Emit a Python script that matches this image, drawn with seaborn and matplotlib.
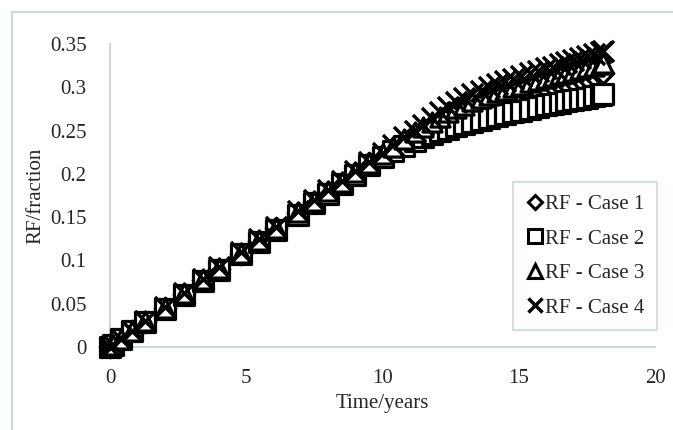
import numpy as np
import pandas as pd
import matplotlib
matplotlib.use("Agg")
import matplotlib.pyplot as plt
import seaborn as sns
from matplotlib.lines import Line2D
from matplotlib.ticker import FuncFormatter

# time axis (years) shared by all cases
time_years = [0, 0.1, 0.4, 0.8, 1.3, 2.0, 2.7, 3.4, 4.0, 4.8, 5.45, 6.1, 6.9, 7.5,
              8.0, 8.5, 9.0, 9.5, 10.0, 10.4, 10.8, 11.2,
              11.5, 11.8, 12.1, 12.4, 12.7, 13.0, 13.3, 13.6, 13.9, 14.2, 14.5, 14.8,
              15.1, 15.4, 15.7, 16.0, 16.25, 16.5, 16.75, 17.0, 17.25, 17.5, 17.75,
              18.0, 18.1]

rf_case1 = [0, 0.002, 0.009, 0.018, 0.029, 0.045, 0.061, 0.077, 0.090, 0.108, 0.123,
            0.137, 0.155, 0.168, 0.179, 0.190, 0.201, 0.212, 0.222, 0.230, 0.238, 0.246,
            0.251, 0.256, 0.261, 0.265, 0.269, 0.273, 0.276, 0.279, 0.282, 0.285, 0.287,
            0.290, 0.292, 0.295, 0.297, 0.299, 0.301, 0.303, 0.305, 0.307, 0.309, 0.311,
            0.313, 0.315, 0.316]
rf_case2 = [0, 0.002, 0.009, 0.018, 0.029, 0.044, 0.060, 0.076, 0.089, 0.107, 0.121,
            0.135, 0.153, 0.166, 0.177, 0.188, 0.199, 0.210, 0.219, 0.226, 0.232, 0.238,
            0.242, 0.246, 0.249, 0.252, 0.255, 0.258, 0.260, 0.262, 0.265, 0.267, 0.269,
            0.271, 0.273, 0.275, 0.277, 0.279, 0.281, 0.282, 0.284, 0.285, 0.287, 0.288,
            0.290, 0.291, 0.292]
rf_case3 = [0, 0.002, 0.009, 0.018, 0.030, 0.045, 0.062, 0.078, 0.091, 0.109, 0.124,
            0.138, 0.156, 0.169, 0.180, 0.191, 0.202, 0.213, 0.223, 0.231, 0.240, 0.248,
            0.254, 0.260, 0.266, 0.271, 0.276, 0.280, 0.284, 0.288, 0.291, 0.294, 0.297,
            0.300, 0.303, 0.306, 0.308, 0.311, 0.313, 0.315, 0.317, 0.319, 0.321, 0.323,
            0.325, 0.327, 0.328]
rf_case4 = [0, 0.002, 0.009, 0.019, 0.030, 0.046, 0.062, 0.079, 0.092, 0.110, 0.125,
            0.139, 0.157, 0.170, 0.181, 0.192, 0.203, 0.214, 0.224, 0.233, 0.242, 0.250,
            0.257, 0.264, 0.271, 0.277, 0.283, 0.288, 0.292, 0.296, 0.300, 0.304, 0.307,
            0.310, 0.313, 0.316, 0.319, 0.322, 0.324, 0.327, 0.329, 0.331, 0.334, 0.336,
            0.338, 0.341, 0.342]

labels = ["RF - Case 1", "RF - Case 2", "RF - Case 3", "RF - Case 4"]

df = pd.DataFrame({"Time": time_years, labels[0]: rf_case1, labels[1]: rf_case2,
                   labels[2]: rf_case3, labels[3]: rf_case4})

sns.set_style("white")
plt.rcParams["font.family"] = ["Liberation Serif", "DejaVu Serif"]
grey = "#c9d9dc"

fig = plt.figure(figsize=(6.73, 4.30), dpi=100)
ax = fig.add_axes([110 / 673, 1 - 347 / 430, 545 / 673, 303 / 430])

# light frame around the chart area
fig.add_artist(Line2D([12 / 673, 12 / 673], [0, 1 - 12 / 430], color=grey, lw=1.5))
fig.add_artist(Line2D([12 / 673, 1], [1 - 12 / 430, 1 - 12 / 430], color=grey, lw=1.5))

styles = [("D", 110), ("s", 190), ("^", 190)]
for lab, (m, s) in zip(labels[:3], styles):
    sns.scatterplot(data=df, x="Time", y=lab, marker=m, s=s, facecolor="white",
                    edgecolor="black", linewidth=2.3, ax=ax, clip_on=False, zorder=3)
sns.scatterplot(data=df, x="Time", y=labels[3], marker="x", s=230, color="black",
                linewidth=2.5, ax=ax, clip_on=False, zorder=4)

ax.set_xlim(0, 20)
ax.set_ylim(0, 0.35)
ax.set_xticks([0, 5, 10, 15, 20])
ax.set_yticks(np.arange(0, 0.351, 0.05))
ax.yaxis.set_major_formatter(FuncFormatter(lambda v, p: f"{v:.2f}".rstrip("0").rstrip(".") if v else "0"))
ax.tick_params(axis="y", labelsize=15, length=0, pad=17)
ax.tick_params(axis="x", labelsize=15, length=0, pad=16)
for sp in ["top", "right"]:
    ax.spines[sp].set_visible(False)
for sp in ["left", "bottom"]:
    ax.spines[sp].set_color(grey)
    ax.spines[sp].set_linewidth(1.5)
ax.set_xlabel("Time/years", fontsize=15, labelpad=4)
ax.set_ylabel("RF/fraction", fontsize=15, labelpad=3)

handles = [Line2D([], [], ls="", marker="D", ms=7.5, mfc="white", mec="black", mew=2.2),
           Line2D([], [], ls="", marker="s", ms=10.5, mfc="white", mec="black", mew=2.2),
           Line2D([], [], ls="", marker="^", ms=10.5, mfc="white", mec="black", mew=2.2),
           Line2D([], [], ls="", marker="x", ms=10.5, color="black", mew=2.5)]
leg = ax.legend(handles, labels, loc="upper right", bbox_to_anchor=(1.004, 0.545),
                borderaxespad=0, fontsize=15, frameon=True, fancybox=False,
                handletextpad=0.05, handlelength=0.9, labelspacing=0.72,
                borderpad=0.6)
leg.get_frame().set_edgecolor(grey)
leg.get_frame().set_linewidth(1.5)

fig.savefig("out.png", dpi=100)
